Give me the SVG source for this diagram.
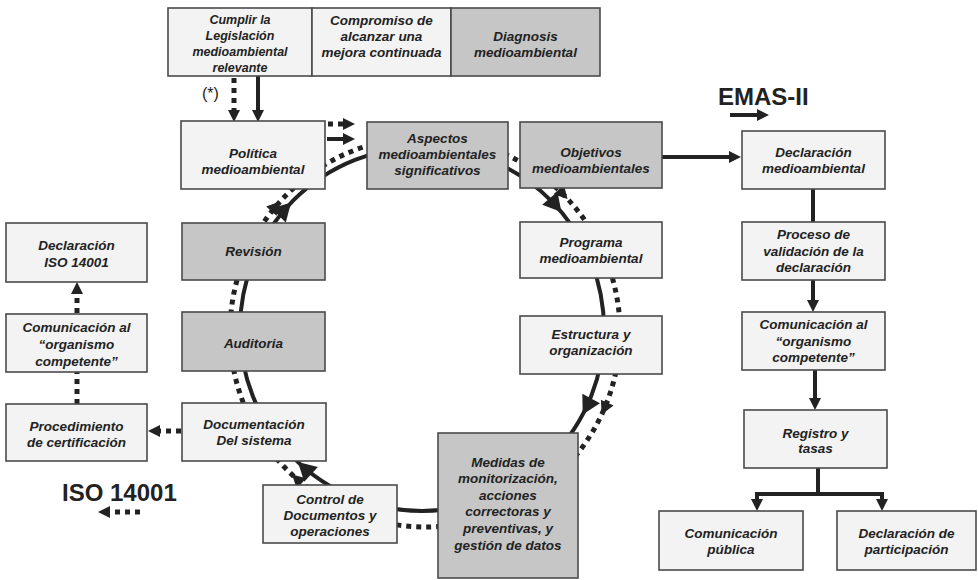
<svg xmlns="http://www.w3.org/2000/svg" width="978" height="580" viewBox="0 0 978 580">
<style>
.w{fill:#f3f3f3;stroke:#4a4a4a;stroke-width:1.6}
.g{fill:#c6c6c6;stroke:#4a4a4a;stroke-width:1.6}
.t{font-family:"Liberation Sans",Arial,sans-serif;font-weight:bold;font-style:italic;font-size:13.5px;fill:#222;text-anchor:middle}
.s{font-size:12.5px}
.big{font-family:"Liberation Sans",Arial,sans-serif;font-weight:bold;font-size:24px;fill:#222}
.sol{fill:none;stroke:#222;stroke-width:4}
.dot{fill:none;stroke:#222;stroke-width:5;stroke-dasharray:5 5}
.hd{fill:#222}
</style>
<defs>
<marker id="arr" viewBox="0 0 12 12" refX="1" refY="6" markerWidth="12" markerHeight="12" markerUnits="userSpaceOnUse" orient="auto"><path d="M0,0 L12,6 L0,12 Z" fill="#222"/></marker>
<path id="ah" d="M0,0 L-18,-10 L-18,10 Z"/>
<path id="ahd" d="M0,0 L-13,-7 L-13,7 Z"/>
</defs>
<g id="connectors">
<circle class="sol" cx="422" cy="329" r="182"/>
<circle class="dot" cx="425" cy="332" r="195"/>
<use href="#ah" class="hd" transform="translate(561.4,212) rotate(50)"/>
<use href="#ah" class="hd" transform="translate(582.7,414.4) rotate(118)"/>
<use href="#ah" class="hd" transform="translate(297.9,462.1) rotate(223)"/>
<use href="#ah" class="hd" transform="translate(291.1,202.5) rotate(314)"/>
<use href="#ahd" class="hd" transform="translate(567.6,199) rotate(47)"/>
<use href="#ahd" class="hd" transform="translate(601.7,414.4) rotate(115)"/>
<use href="#ahd" class="hd" transform="translate(292,474.6) rotate(223)"/>
<use href="#ahd" class="hd" transform="translate(280,201.5) rotate(312)"/>
<line class="dot" x1="234" y1="78" x2="234" y2="111" marker-end="url(#arr)"/>
<line class="sol" x1="258" y1="76" x2="258" y2="111" marker-end="url(#arr)"/>
<line class="dot" x1="328" y1="124" x2="344" y2="124" marker-end="url(#arr)"/>
<line class="sol" x1="327" y1="139" x2="344" y2="139" marker-end="url(#arr)"/>
<line class="sol" x1="662" y1="157" x2="730" y2="157" marker-end="url(#arr)"/>
<line class="sol" x1="813" y1="189" x2="813" y2="222"/>
<line class="sol" x1="813" y1="280" x2="813" y2="301" marker-end="url(#arr)"/>
<line class="sol" x1="815" y1="370" x2="815" y2="399" marker-end="url(#arr)"/>
<path class="sol" d="M818,468 V494 M755,494 H884"/>
<line class="sol" x1="757" y1="494" x2="757" y2="500" marker-end="url(#arr)"/>
<line class="sol" x1="882" y1="494" x2="882" y2="500" marker-end="url(#arr)"/>
<line class="dot" x1="181" y1="431" x2="159" y2="431" marker-end="url(#arr)"/>
<line class="dot" x1="77" y1="404" x2="77" y2="372"/>
<line class="dot" x1="77" y1="313" x2="77" y2="293" marker-end="url(#arr)"/>
<line class="sol" x1="730" y1="115" x2="758" y2="115" marker-end="url(#arr)"/>
<line class="dot" x1="140" y1="512" x2="109" y2="512" marker-end="url(#arr)"/>
</g>
<text class="big" x="718" y="105">EMAS-II</text>
<text class="big" x="62" y="501">ISO 14001</text>
<text x="202" y="99" style="font-family:'Liberation Sans',Arial,sans-serif;font-size:16px;fill:#222">(*)</text>
<g id="cumplir"><rect class="w" x="168" y="8" width="144" height="68"/><text class="t s" x="240" y="24">Cumplir la</text><text class="t s" x="240" y="40">Legislación</text><text class="t s" x="240" y="56">medioambiental</text><text class="t s" x="240" y="72">relevante</text></g>
<g id="compromiso"><rect class="w" x="312" y="8" width="139" height="68"/><text class="t" x="381.5" y="25">Compromiso de</text><text class="t" x="381.5" y="41">alcanzar una</text><text class="t" x="381.5" y="57">mejora continuada</text></g>
<g id="diagnosis"><rect class="g" x="451" y="8" width="149" height="68"/><text class="t" x="525.5" y="41">Diagnosis</text><text class="t" x="525.5" y="57">medioambiental</text></g>
<g id="politica"><rect class="w" x="181" y="121" width="144" height="68"/><text class="t" x="253" y="158">Política</text><text class="t" x="253" y="174">medioambiental</text></g>
<g id="aspectos"><rect class="g" x="367" y="122" width="141" height="67"/><text class="t" x="437.5" y="143">Aspectos</text><text class="t" x="437.5" y="159">medioambientales</text><text class="t" x="437.5" y="175">significativos</text></g>
<g id="objetivos"><rect class="g" x="520" y="122" width="142" height="66"/><text class="t" x="591" y="157">Objetivos</text><text class="t" x="591" y="173">medioambientales</text></g>
<g id="programa"><rect class="w" x="520" y="222" width="142" height="56"/><text class="t" x="591" y="247">Programa</text><text class="t" x="591" y="263">medioambiental</text></g>
<g id="estructura"><rect class="w" x="520" y="316" width="142" height="58"/><text class="t" x="591" y="339">Estructura y</text><text class="t" x="591" y="355">organización</text></g>
<g id="medidas"><rect class="g" x="438" y="433" width="140" height="145"/><text class="t" x="508" y="467">Medidas de</text><text class="t" x="508" y="483">monitorización,</text><text class="t" x="508" y="500">acciones</text><text class="t" x="508" y="516">correctoras y</text><text class="t" x="508" y="533">preventivas, y</text><text class="t" x="508" y="550">gestión de datos</text></g>
<g id="control"><rect class="w" x="263" y="485" width="134" height="58"/><text class="t" x="330" y="504">Control de</text><text class="t" x="330" y="520">Documentos y</text><text class="t" x="330" y="536">operaciones</text></g>
<g id="documentacion"><rect class="w" x="182" y="403" width="144" height="58"/><text class="t" x="254" y="429">Documentación</text><text class="t" x="254" y="445">Del sistema</text></g>
<g id="revision"><rect class="g" x="182" y="223" width="143" height="57"/><text class="t" x="253.5" y="256">Revisión</text></g>
<g id="auditoria"><rect class="g" x="182" y="312" width="143" height="59"/><text class="t" x="253.5" y="348">Auditoria</text></g>
<g id="declaracion-iso"><rect class="w" x="6" y="223" width="141" height="59"/><text class="t" x="76.5" y="250">Declaración</text><text class="t" x="76.5" y="267">ISO 14001</text></g>
<g id="comunicacion-iso"><rect class="w" x="6" y="314" width="141" height="58"/><text class="t" x="76.5" y="332">Comunicación al</text><text class="t" x="76.5" y="349">“organismo</text><text class="t" x="76.5" y="366">competente”</text></g>
<g id="procedimiento"><rect class="w" x="6" y="404" width="141" height="57"/><text class="t" x="76.5" y="431">Procedimiento</text><text class="t" x="76.5" y="447">de certificación</text></g>
<g id="declaracion-med"><rect class="w" x="742" y="131" width="143" height="58"/><text class="t" x="813.5" y="157">Declaración</text><text class="t" x="813.5" y="173">medioambiental</text></g>
<g id="proceso"><rect class="w" x="742" y="222" width="143" height="58"/><text class="t" x="813.5" y="239">Proceso de</text><text class="t" x="813.5" y="256">validación de la</text><text class="t" x="813.5" y="272">declaración</text></g>
<g id="comunicacion-emas"><rect class="w" x="742" y="312" width="143" height="58"/><text class="t" x="813.5" y="329">Comunicación al</text><text class="t" x="813.5" y="346">“organismo</text><text class="t" x="813.5" y="362">competente”</text></g>
<g id="registro"><rect class="w" x="744" y="410" width="143" height="58"/><text class="t" x="815.5" y="438">Registro y</text><text class="t" x="815.5" y="453">tasas</text></g>
<g id="comunicacion-publica"><rect class="w" x="659" y="511" width="144" height="59"/><text class="t" x="731" y="538">Comunicación</text><text class="t" x="731" y="554">pública</text></g>
<g id="declaracion-part"><rect class="w" x="837" y="511" width="139" height="59"/><text class="t" x="906.5" y="538">Declaración de</text><text class="t" x="906.5" y="554">participación</text></g>
</svg>
